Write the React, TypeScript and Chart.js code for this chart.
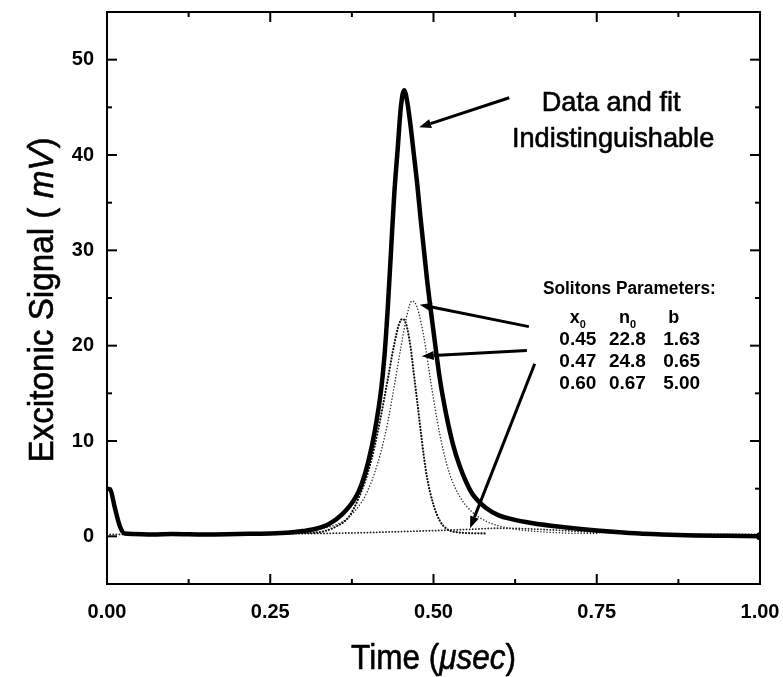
import React, { useEffect, useRef } from 'react';
import { Chart, registerables } from 'chart.js';
Chart.register(...registerables);

// ---- axis ticks ----
const xMajorTicks = [0, 0.25, 0.5, 0.75, 1.0];
const xMinorTicks = [0.125, 0.375, 0.625, 0.875];
const yMajorTicks = [0, 10, 20, 30, 40, 50];
const yMinorTicks = [-5, 5, 15, 25, 35, 45, 55];

// ---- measured signal (data and fit, indistinguishable) ----
const mainTime = [0, 0.005, 0.012, 0.02, 0.027, 0.04, 0.07, 0.1, 0.15, 0.2, 0.25, 0.28, 0.3, 0.32, 0.34, 0.36, 0.38, 0.39, 0.40, 0.41, 0.42, 0.425, 0.43, 0.435, 0.44, 0.445, 0.45, 0.455, 0.46, 0.465, 0.47, 0.475, 0.48, 0.49, 0.50, 0.51, 0.52, 0.53, 0.54, 0.55, 0.56, 0.58, 0.60, 0.62, 0.65, 0.70, 0.75, 0.80, 0.85, 0.90, 0.95, 1.0];
const mainSignal = [5.0, 4.9, 3.0, 1.0, 0.3, 0.25, 0.2, 0.25, 0.2, 0.25, 0.3, 0.4, 0.55, 0.8, 1.3, 2.3, 4.0, 5.5, 7.8, 11.0, 15.5, 19.0, 24.0, 30.0, 36.0, 40.5, 45.0, 46.8, 45.5, 43.0, 40.0, 37.0, 33.5, 27.0, 21.5, 16.4, 12.6, 9.6, 7.4, 5.7, 4.4, 3.0, 2.2, 1.8, 1.4, 0.95, 0.6, 0.35, 0.2, 0.1, 0.05, 0.0];

// ---- soliton 1: x0 0.45, n0 22.8 ----
const sol1Time = [0.25, 0.30, 0.33, 0.35, 0.37, 0.38, 0.39, 0.40, 0.41, 0.42, 0.43, 0.44, 0.447, 0.452, 0.458, 0.465, 0.47, 0.475, 0.48, 0.485, 0.49, 0.50, 0.51, 0.52, 0.54, 0.58];
const sol1Signal = [0.3, 0.35, 0.5, 1.0, 2.0, 3.2, 4.8, 6.8, 9.5, 12.8, 16.5, 20.2, 22.2, 22.8, 22.3, 19.8, 17.0, 14.2, 11.3, 8.5, 6.2, 3.3, 1.6, 0.8, 0.4, 0.3];

// ---- soliton 2: x0 0.47, n0 24.8 ----
const sol2Time = [0.20, 0.28, 0.32, 0.35, 0.37, 0.39, 0.40, 0.41, 0.42, 0.43, 0.44, 0.45, 0.46, 0.467, 0.475, 0.485, 0.495, 0.505, 0.515, 0.525, 0.54, 0.56, 0.58, 0.60, 0.63, 0.66, 0.70, 0.75];
const sol2Signal = [0.3, 0.4, 0.7, 1.2, 2.0, 3.6, 4.9, 6.7, 9.0, 12.0, 15.8, 19.8, 23.4, 24.7, 24.0, 21.0, 16.6, 12.4, 9.0, 6.5, 4.2, 2.5, 1.6, 1.1, 0.7, 0.5, 0.35, 0.3];

// ---- soliton 3: x0 0.60, n0 0.67 ----
const sol3Time = [0.0, 0.1, 0.2, 0.3, 0.35, 0.4, 0.45, 0.5, 0.55, 0.6, 0.65, 0.7, 0.75, 0.8, 0.9, 1.0];
const sol3Signal = [0.2, 0.2, 0.22, 0.28, 0.33, 0.4, 0.5, 0.6, 0.72, 0.85, 0.78, 0.6, 0.42, 0.3, 0.22, 0.2];

// ---- parameter table ----
const paramX0 = ['0.45', '0.47', '0.60'];
const paramN0 = ['22.8', '24.8', '0.67'];
const paramB = ['1.63', '0.65', '5.00'];

const W = 783;
const H = 677;
const FAMILY = '"Liberation Sans", Arial, Helvetica, sans-serif';

type Seg = { t: string; font: string; dy?: number };

function drawRich(ctx: CanvasRenderingContext2D, segs: Seg[], x: number, y: number, align: string, sx: number, heavy = 0) {
  ctx.save();
  let total = 0;
  const widths = segs.map((s) => {
    ctx.font = s.font;
    const w = ctx.measureText(s.t).width;
    total += w;
    return w;
  });
  ctx.translate(x, y);
  ctx.scale(sx, 1);
  let cx = align === 'center' ? -total / 2 : align === 'right' ? -total : 0;
  ctx.textAlign = 'left';
  ctx.textBaseline = 'alphabetic';
  ctx.lineJoin = 'round';
  segs.forEach((s, i) => {
    ctx.font = s.font;
    ctx.fillText(s.t, cx, s.dy || 0);
    if (heavy > 0) {
      ctx.lineWidth = heavy;
      ctx.strokeText(s.t, cx, s.dy || 0);
    }
    cx += widths[i];
  });
  ctx.restore();
}

function arrow(ctx: CanvasRenderingContext2D, x1: number, y1: number, x2: number, y2: number) {
  const ang = Math.atan2(y2 - y1, x2 - x1);
  const hl = 12;
  const hw = 4.5;
  const bx = x2 - hl * Math.cos(ang);
  const by = y2 - hl * Math.sin(ang);
  ctx.beginPath();
  ctx.moveTo(x1, y1);
  ctx.lineTo(bx, by);
  ctx.lineWidth = 3;
  ctx.stroke();
  ctx.beginPath();
  ctx.moveTo(x2, y2);
  ctx.lineTo(bx + hw * Math.sin(ang), by - hw * Math.cos(ang));
  ctx.lineTo(bx - hw * Math.sin(ang), by + hw * Math.cos(ang));
  ctx.closePath();
  ctx.fill();
}

// annotation anchors in data units [time, signal]
const peakArrow = { from: [0.616, 46.0], to: [0.478, 42.9] };
const solArrows = [
  { from: [0.646, 22.0], to: [0.479, 24.3] },
  { from: [0.643, 19.5], to: [0.482, 18.9] },
  { from: [0.655, 18.1], to: [0.556, 0.84] },
];

const decorPlugin = {
  id: 'decor',
  afterDatasetsDraw(chart: any) {
    const { ctx, chartArea: a, scales } = chart;
    const xs = scales.x;
    const ys = scales.y;
    const px = (v: number) => xs.getPixelForValue(v);
    const py = (v: number) => ys.getPixelForValue(v);
    ctx.save();
    ctx.strokeStyle = '#000';
    ctx.fillStyle = '#000';
    ctx.lineWidth = 2;
    ctx.strokeRect(a.left, a.top, a.right - a.left, a.bottom - a.top);
    const seg = (x1: number, y1: number, x2: number, y2: number) => {
      ctx.beginPath();
      ctx.moveTo(x1, y1);
      ctx.lineTo(x2, y2);
      ctx.stroke();
    };
    ctx.lineWidth = 2;
    xMajorTicks.forEach((v) => { const p = px(v); seg(p, a.bottom, p, a.bottom - 10); seg(p, a.top, p, a.top + 10); });
    xMinorTicks.forEach((v) => { const p = px(v); seg(p, a.bottom, p, a.bottom - 5); seg(p, a.top, p, a.top + 5); });
    yMajorTicks.forEach((v) => { const p = py(v); seg(a.left, p, a.left + 10, p); seg(a.right, p, a.right - 10, p); });
    yMinorTicks.forEach((v) => { const p = py(v); seg(a.left, p, a.left + 5, p); seg(a.right, p, a.right - 5, p); });

    // arrows
    arrow(ctx, px(peakArrow.from[0]), py(peakArrow.from[1]), px(peakArrow.to[0]), py(peakArrow.to[1]));
    solArrows.forEach((ar) => arrow(ctx, px(ar.from[0]), py(ar.from[1]), px(ar.to[0]), py(ar.to[1])));

    // annotation text
    const reg = (s: number) => `normal ${s}px ${FAMILY}`;
    const bold = (s: number) => `bold ${s}px ${FAMILY}`;
    drawRich(ctx, [{ t: 'Data and fit', font: reg(28) }], px(0.772), py(44.6), 'center', 0.97, 0.6);
    drawRich(ctx, [{ t: 'Indistinguishable', font: reg(28) }], px(0.775), py(40.8), 'center', 0.97, 0.6);

    drawRich(ctx, [{ t: 'Solitons Parameters:', font: bold(18) }], px(0.800), py(25.4), 'center', 0.96);
    const colX = [0.721, 0.797, 0.880];
    drawRich(ctx, [{ t: 'x', font: bold(18) }, { t: '0', font: bold(11), dy: 5 }], px(colX[0]), py(22.4), 'center', 1);
    drawRich(ctx, [{ t: 'n', font: bold(18) }, { t: '0', font: bold(11), dy: 5 }], px(colX[1]), py(22.4), 'center', 1);
    drawRich(ctx, [{ t: 'b', font: bold(18) }], px(colX[2] - 0.012), py(22.4), 'center', 1);
    const rowY = [20.1, 17.8, 15.5];
    rowY.forEach((ry, i) => {
      drawRich(ctx, [{ t: paramX0[i], font: bold(19) }], px(colX[0]), py(ry), 'center', 1);
      drawRich(ctx, [{ t: paramN0[i], font: bold(19) }], px(colX[1]), py(ry), 'center', 1);
      drawRich(ctx, [{ t: paramB[i], font: bold(19) }], px(colX[2]), py(ry), 'center', 1);
    });

    // axis titles
    const tf = `normal 35px ${FAMILY}`;
    const tfi = `italic 35px ${FAMILY}`;
    drawRich(ctx, [{ t: 'Time (', font: tf }, { t: 'μsec', font: tfi }, { t: ')', font: tf }], (a.left + a.right) / 2, 669, 'center', 0.9, 0.6);
    ctx.save();
    ctx.translate(53, 300);
    ctx.rotate(-Math.PI / 2);
    drawRich(ctx, [{ t: 'Excitonic Signal ( ', font: tf }, { t: 'mV', font: tfi }, { t: ')', font: tf }], 0, 0, 'center', 0.95, 0.6);
    ctx.restore();
    ctx.restore();
  },
};

function pts(t: number[], v: number[]) {
  return t.map((x, i) => ({ x, y: v[i] }));
}

export default function App() {
  const ref = useRef<HTMLCanvasElement>(null);
  useEffect(() => {
    document.body.style.margin = '0';
    const lastIdx = mainTime.length - 1;
    const chart = new Chart(ref.current as HTMLCanvasElement, {
      type: 'line',
      data: {
        datasets: [
          {
            data: pts(mainTime, mainSignal),
            borderColor: '#000',
            backgroundColor: '#000',
            borderWidth: 4.5,
            cubicInterpolationMode: 'monotone',
            pointRadius: (c: any) => (c.dataIndex === lastIdx ? 4 : 0),
            pointBorderWidth: 0,
            fill: false,
          },
          {
            data: pts(sol1Time, sol1Signal),
            borderColor: '#111',
            borderWidth: 2.2,
            borderDash: [0.1, 3],
            borderCapStyle: 'round',
            cubicInterpolationMode: 'monotone',
            pointRadius: 0,
            fill: false,
          },
          {
            data: pts(sol2Time, sol2Signal),
            borderColor: '#333',
            borderWidth: 1.5,
            borderDash: [0.1, 3],
            borderCapStyle: 'round',
            cubicInterpolationMode: 'monotone',
            pointRadius: 0,
            fill: false,
          },
          {
            data: pts(sol3Time, sol3Signal),
            borderColor: '#222',
            borderWidth: 1.8,
            borderDash: [0.1, 3],
            borderCapStyle: 'round',
            cubicInterpolationMode: 'monotone',
            pointRadius: 0,
            fill: false,
          },
        ],
      },
      options: {
        responsive: false,
        animation: false,
        devicePixelRatio: 1,
        layout: { padding: { left: 0, right: 23, top: 12, bottom: 0 } },
        plugins: { legend: { display: false }, tooltip: { enabled: false } },
        scales: {
          x: {
            type: 'linear',
            min: 0,
            max: 1,
            grid: { display: false, drawTicks: false },
            border: { display: false },
            afterBuildTicks: (s: any) => { s.ticks = xMajorTicks.map((v) => ({ value: v })); },
            afterFit: (s: any) => { s.height = 93; s.paddingLeft = 0; s.paddingRight = 0; },
            ticks: {
              autoSkip: false,
              maxRotation: 0,
              padding: 16,
              color: '#000',
              font: { family: FAMILY, size: 20, weight: 'bold' },
              callback: (v: any) => Number(v).toFixed(2),
            },
          },
          y: {
            type: 'linear',
            min: -5,
            max: 55,
            grid: { display: false, drawTicks: false },
            border: { display: false },
            afterBuildTicks: (s: any) => { s.ticks = yMajorTicks.map((v) => ({ value: v })); },
            afterFit: (s: any) => { s.width = 107; s.paddingTop = 0; s.paddingBottom = 0; },
            ticks: {
              autoSkip: false,
              padding: 13,
              color: '#000',
              font: { family: FAMILY, size: 20, weight: 'bold' },
              callback: (v: any) => String(v),
            },
          },
        },
      } as any,
      plugins: [decorPlugin],
    });
    return () => chart.destroy();
  }, []);
  return (
    <div style={{ width: W, height: H, background: '#fff' }}>
      <canvas ref={ref} width={W} height={H} style={{ display: 'block', width: W, height: H }} />
    </div>
  );
}
